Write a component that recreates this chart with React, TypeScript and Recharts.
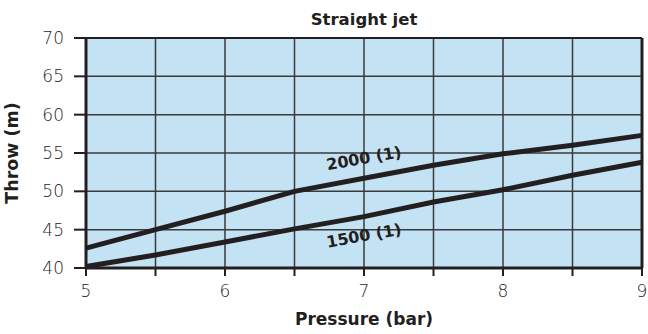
import React from 'react'
import {
  LineChart,
  Line,
  XAxis,
  YAxis,
  CartesianGrid,
  ReferenceLine,
  LabelList,
} from 'recharts'

const pressure = [5, 5.5, 6, 6.5, 7, 7.5, 8, 8.5, 9]
const throw2000 = [42.6, 45.0, 47.4, 50.0, 51.7, 53.4, 54.9, 56.0, 57.3]
const throw1500 = [40.2, 41.7, 43.4, 45.1, 46.7, 48.6, 50.2, 52.1, 53.8]
const xTicks = [5, 5.5, 6, 6.5, 7, 7.5, 8, 8.5, 9]
const yTicks = [40, 45, 50, 55, 60, 65, 70]

const rows = pressure.map((p, i) => ({
  p,
  s2000: throw2000[i],
  s1500: throw1500[i],
}))

const ink = '#231f20'
const font = '"DejaVu Sans", sans-serif'
const boldText = { fill: ink, fontFamily: font, fontWeight: 'bold', fontSize: 17 }

// label drawn once, next to the point at 7 bar
const lineLabel = (text: string, dy: number) => (props: any) => {
  const { x, y, index } = props
  if (index !== 4) return null
  return (
    <text
      x={x}
      y={y + dy}
      textAnchor="middle"
      dominantBaseline="middle"
      fontFamily={font}
      fontWeight="bold"
      fontSize={16}
      fill={ink}
      transform={`rotate(-10 ${x} ${y + dy})`}
    >
      {text}
    </text>
  )
}

const App: React.FC = () => {
  return (
    <div style={{ position: 'absolute', left: 0, top: 0, width: 648, height: 334, background: '#fff' }}>
      <LineChart
        width={648}
        height={334}
        data={rows}
        margin={{ top: 38, right: 6, bottom: 0, left: 0 }}
      >
        <CartesianGrid fill="#c3e2f4" fillOpacity={1} stroke="#3a3a3a" strokeWidth={1.5} />
        <XAxis
          dataKey="p"
          type="number"
          domain={[5, 9]}
          ticks={xTicks}
          tickFormatter={(v: number) => (Number.isInteger(v) ? String(v) : '')}
          height={66}
          tickSize={8}
          tickMargin={9}
          axisLine={{ stroke: ink, strokeWidth: 3 }}
          tickLine={{ stroke: ink, strokeWidth: 2 }}
          tick={{ fill: ink, fontFamily: font, fontSize: 17, fontWeight: 300 }}
          label={{ value: 'Pressure (bar)', position: 'insideBottom', offset: 9, style: boldText }}
        />
        <YAxis
          type="number"
          domain={[40, 70]}
          ticks={yTicks}
          width={86}
          tickSize={12}
          tickMargin={10}
          axisLine={{ stroke: ink, strokeWidth: 3 }}
          tickLine={{ stroke: ink, strokeWidth: 2 }}
          tick={{ fill: ink, fontFamily: font, fontSize: 17, fontWeight: 300 }}
          label={{
            value: 'Throw (m)',
            angle: -90,
            position: 'insideLeft',
            offset: 12,
            style: { ...boldText, fontSize: 17.5, textAnchor: 'middle' },
          }}
        />
        <ReferenceLine
          y={70}
          stroke={ink}
          strokeWidth={2}
          label={{ value: 'Straight jet', position: 'top', offset: 13, style: { ...boldText, fontSize: 16.5 } }}
        />
        <ReferenceLine x={9} stroke={ink} strokeWidth={3} />
        <Line dataKey="s2000" type="linear" stroke={ink} strokeWidth={5} dot={false} isAnimationActive={false}>
          <LabelList dataKey="s2000" content={lineLabel('2000 (1)', -19)} />
        </Line>
        <Line dataKey="s1500" type="linear" stroke={ink} strokeWidth={5} dot={false} isAnimationActive={false}>
          <LabelList dataKey="s1500" content={lineLabel('1500 (1)', 20)} />
        </Line>
      </LineChart>
    </div>
  )
}

export default App
